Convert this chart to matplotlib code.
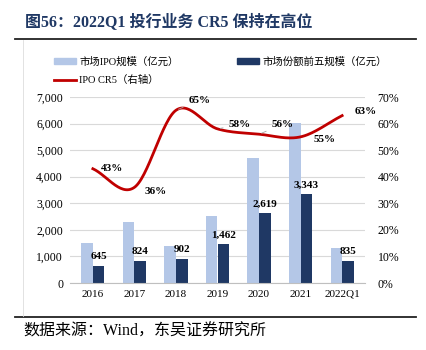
import numpy as np
import matplotlib
matplotlib.use('Agg')
import matplotlib.pyplot as plt
from matplotlib.lines import Line2D

plt.rcParams['font.family'] = ['Liberation Serif', 'Noto Sans CJK SC']

# data
years = ['2016', '2017', '2018', '2019', '2020', '2021', '2022Q1']
ipo_scale = [1500, 2300, 1380, 2530, 4700, 6030, 1330]
top5_scale = [645, 824, 902, 1462, 2619, 3343, 835]
cr5 = [43, 36, 65, 58, 56, 55, 63]

LIGHT = '#B4C7E7'
DARK = '#1F3864'
RED = '#C00000'


def smooth(xs, ys, n=30):
    """Catmull-Rom through the points, like Excel's smoothed line"""
    xs = np.asarray(xs, float); ys = np.asarray(ys, float)
    px = np.concatenate([[2 * xs[0] - xs[1]], xs, [2 * xs[-1] - xs[-2]]])
    py = np.concatenate([[2 * ys[0] - ys[1]], ys, [2 * ys[-1] - ys[-2]]])
    ox, oy = [], []
    for i in range(1, len(px) - 2):
        t = np.linspace(0, 1, n, endpoint=False)
        for p, out in ((px, ox), (py, oy)):
            p0, p1, p2, p3 = p[i - 1], p[i], p[i + 1], p[i + 2]
            out.extend(0.5 * (2 * p1 + (-p0 + p2) * t + (2 * p0 - 5 * p1 + 4 * p2 - p3) * t**2
                              + (-p0 + 3 * p1 - 3 * p2 + p3) * t**3))
    ox.append(xs[-1]); oy.append(ys[-1])
    return np.array(ox), np.array(oy)


fig = plt.figure(figsize=(4.26, 3.5), dpi=100)
W, H = 426, 350

# title + frame lines
fig.text(25 / W, 1 - 22 / H, '图56：2022Q1 投行业务 CR5 保持在高位', fontsize=11.5,
         fontweight='bold', color=DARK, va='center', ha='left')
fig.add_artist(Line2D([15 / W, 416 / W], [1 - 39 / H] * 2, color='#222222', lw=1.3))
fig.add_artist(Line2D([15 / W, 416 / W], [1 - 317 / H] * 2, color='#222222', lw=1.3))
fig.add_artist(Line2D([23 / W, 23 / W], [1 - 40 / H, 1 - 316 / H], color='#DDDDDD', lw=0.6))
fig.text(23 / W, 1 - 332 / H, '数据来源：Wind，东吴证券研究所', fontsize=11.5, va='center', ha='left')

ax = fig.add_axes([70 / W, 1 - 283 / H, 295 / W, 186 / H])
x = np.arange(len(years))
w = 0.28
ax.bar(x - w / 2, ipo_scale, w, color=LIGHT, zorder=2)
ax.bar(x + w / 2, top5_scale, w, color=DARK, zorder=2)
for xi, v in zip(x, top5_scale):
    ax.text(xi + w / 2, v + 180, f'{v:,}', ha='center', va='bottom', fontsize=8, fontweight='bold')

ax.set_ylim(0, 7000)
ax.set_yticks(range(0, 7001, 1000))
ax.set_yticklabels(['0'] + [f'{v:,}' for v in range(1000, 7001, 1000)], fontsize=8.5)
ax.set_xlim(-0.55, len(years) - 0.45)
ax.set_xticks(x)
ax.set_xticklabels(years, fontsize=8)
ax.grid(axis='y', color='#D9D9D9', lw=0.8, zorder=0)
ax.set_axisbelow(True)
for s in ['top', 'left', 'right']:
    ax.spines[s].set_visible(False)
ax.spines['bottom'].set_color('#BFBFBF')
ax.tick_params(length=0, pad=5)

ax2 = ax.twinx()
sx, sy = smooth(x, cr5)
ax2.plot(sx, sy, color=RED, lw=2, zorder=3)
ax2.set_ylim(0, 70)
ax2.set_yticks(range(0, 71, 10))
ax2.set_yticklabels([f'{v}%' for v in range(0, 71, 10)], fontsize=8.5)
ax2.tick_params(length=0, pad=9)
for s in ['top', 'left', 'right', 'bottom']:
    ax2.spines[s].set_visible(False)

# line labels (offset in points, leader lines on some)
offs = [(6, 0, False), (7, -3, False), (9, 7, True), (8, 3, True), (9, 7, True), (9, -2, False), (9, 3, False)]
for xi, v, (dx, dy, lead) in zip(x, cr5, offs):
    kw = dict(arrowprops=dict(arrowstyle='-', color='#A6A6A6', lw=0.6)) if lead else {}
    ax2.annotate(f'{v}%', (xi, v), xytext=(dx, dy), textcoords='offset points',
                 ha='left', va='center', fontsize=8, fontweight='bold', **kw)

handles = [plt.Rectangle((0, 0), 1, 1, color=LIGHT), Line2D([], [], color=RED, lw=2),
           plt.Rectangle((0, 0), 1, 1, color=DARK)]
labels = ['市场IPO规模（亿元）', 'IPO CR5（右轴）', '市场份额前五规模（亿元）']
fig.legend(handles, labels, ncol=2, loc='upper left', bbox_to_anchor=(45 / W, 1 - 47 / H),
           frameon=False, fontsize=7.5, handlelength=2.1, handleheight=0.5, columnspacing=5.6,
           handletextpad=0.3, labelspacing=0.85)

plt.savefig('out.png', dpi=100)
